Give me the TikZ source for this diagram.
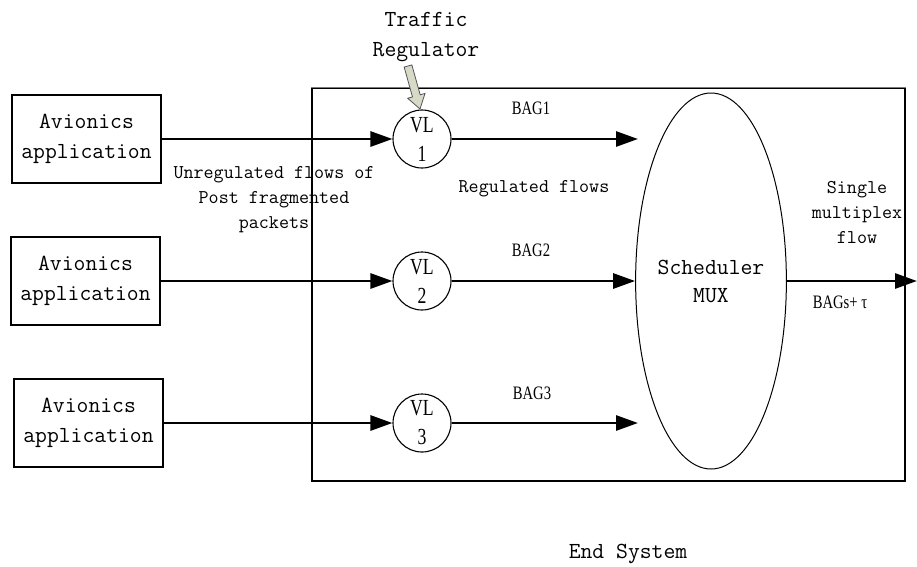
\documentclass[tikz,border=0pt]{standalone}
\usepackage{fontspec}
\setmainfont{Liberation Serif}
\newfontfamily\monofont{Latin Modern Mono}
\newfontfamily\condserif[FakeStretch=0.77]{Liberation Serif}
\usetikzlibrary{arrows.meta,shapes.geometric,calc}
\definecolor{regfill}{HTML}{D6DAC6}
\definecolor{regline}{HTML}{555555}
\definecolor{topline}{HTML}{7A7A7A}
\begin{document}
\begin{tikzpicture}[x=1pt,y=-1pt,
  app/.style={draw, line width=1.2pt, minimum width=149pt, minimum height=88pt,
    inner sep=0pt, align=center, font=\monofont\fontsize{23}{30}\selectfont},
  vl/.style={draw, circle, line width=1.1pt, minimum size=58pt, inner sep=0pt,
    align=center, font=\condserif\fontsize{23}{29}\selectfont},
  flow/.style={line width=2.8pt, -{Triangle[length=22pt,width=15pt]}},
  monosmall/.style={font=\monofont\fontsize{19.5}{25}\selectfont, align=center, inner sep=0pt},
  monobig/.style={font=\monofont\fontsize{23}{30}\selectfont, align=center, inner sep=0pt},
  bag/.style={font=\condserif\fontsize{19}{22}\selectfont, inner sep=0pt}]

\useasboundingbox (0,0) rectangle (917,566);

% end system frame
\node[draw, line width=1.2pt, minimum width=593pt, minimum height=393pt, inner sep=0pt]
  (es) at (608.5,284.5) {};
\draw[topline, line width=1.6pt] (es.north west) -- (es.north east);

% avionics applications
\node[app] (app1) at (86.5,139) {Avionics\\application};
\node[app] (app2) at (85.5,281) {Avionics\\application};
\node[app] (app3) at (88.5,423) {Avionics\\application};

% virtual links
\node[vl] (vl1) at (422,139) {VL\\1};
\node[vl] (vl2) at (422,281) {VL\\2};
\node[vl] (vl3) at (422,423) {VL\\3};

% scheduler
\node[draw, ellipse, line width=1pt, minimum width=148pt, minimum height=376pt,
  inner sep=0pt, align=center, font=\monofont\fontsize{23}{28}\selectfont]
  (mux) at (711,281) {Scheduler\\MUX};

% flow ends
\coordinate (e1) at (638,139);
\coordinate (e3) at (638,423);
\coordinate (out) at (917,281);

% flows
\draw[flow] (app1) -- (vl1);
\draw[flow] (app2) -- (vl2);
\draw[flow] (app3) -- (vl3);
\draw[flow] (vl1) -- (e1);
\draw[flow] (vl2) -- (mux);
\draw[flow] (vl3) -- (e3);
\draw[flow] (mux) -- (out);

% traffic regulator pointer
\node[monobig] (treg) at (426,37) {Traffic\\Regulator};
\coordinate (ra) at (408,66);
\coordinate (rb) at (420,109);
\coordinate (rm) at ($(ra)!31pt!(rb)$);
\filldraw[fill=regfill, draw=regline, line width=0.8pt, line join=miter]
  ($(ra)!4pt!90:(rb)$) -- ($(rm)!4pt!90:(rb)$) -- ($(rm)!9pt!90:(rb)$) -- (rb)
  -- ($(rm)!9pt!-90:(rb)$) -- ($(rm)!4pt!-90:(rb)$) -- ($(ra)!4pt!-90:(rb)$) -- cycle;

% labels
\node[bag] (bag1) at (531,108) {BAG1};
\node[bag] (bag2) at (531,250) {BAG2};
\node[bag] (bag3) at (532,393) {BAG3};
\node[monosmall] (reg) at (534,189) {Regulated flows};
\node[monosmall] (unreg) at (274,200) {Unregulated flows of\\Post fragmented\\packets};
\node[monosmall] (single) at (857,212) {Single\\multiplex\\flow};
\node[bag] (bags) at (840,302) {BAGs+ τ};
\node[monobig] (endsys) at (628,554) {End System};
\end{tikzpicture}
\end{document}
